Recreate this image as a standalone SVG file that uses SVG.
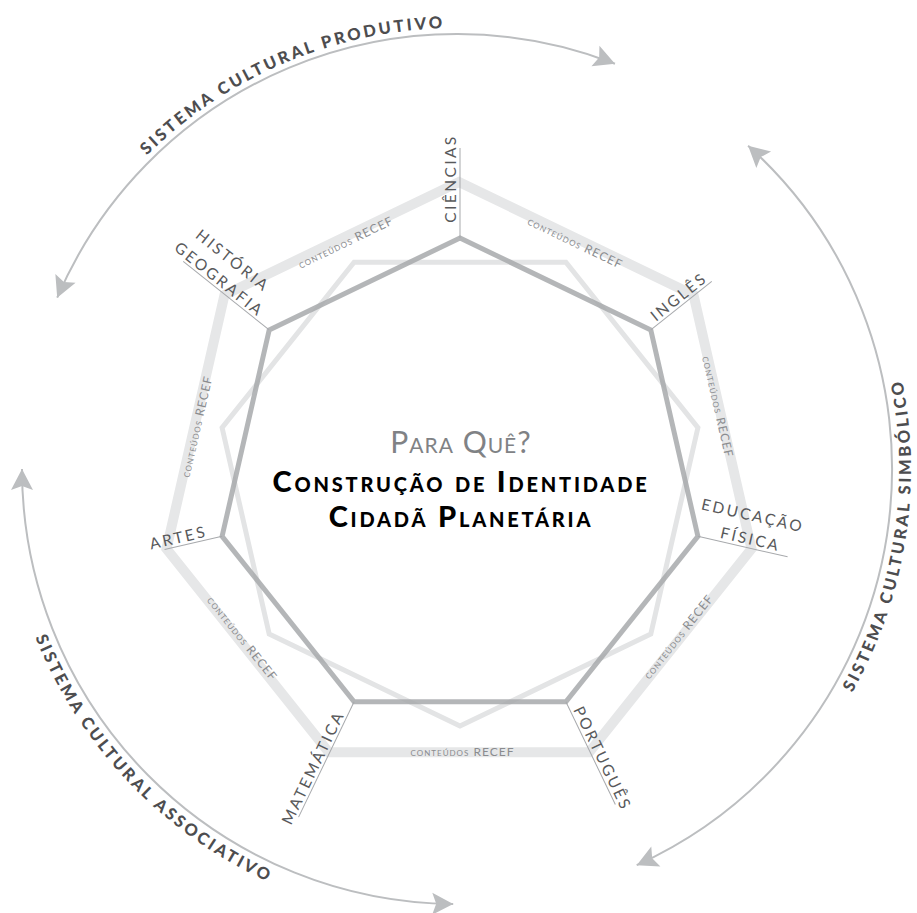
<svg xmlns="http://www.w3.org/2000/svg" width="917" height="913" viewBox="0 0 917 913">
<defs>
<style>
.lbl{font-family:Lato,"Open Sans","DejaVu Sans",sans-serif;font-size:15.5px;fill:#58595b;letter-spacing:2.4px}
.rec{font-family:Lato,"Open Sans","DejaVu Sans",sans-serif;font-size:12px;fill:#8a8c8f;font-variant:small-caps;letter-spacing:1px;text-anchor:middle}
.sys{font-family:Lato,"Open Sans","DejaVu Sans",sans-serif;font-size:16.5px;font-weight:900;fill:#4d4d4f;letter-spacing:2.8px}
.lead{stroke:#a7a9ac;stroke-width:1;fill:none}
.arc{stroke:#bcbec0;stroke-width:2;fill:none;marker-start:url(#ah);marker-end:url(#ah)}
.title{font-family:Lato,"Open Sans","DejaVu Sans",sans-serif;font-variant:small-caps;text-anchor:middle}
</style>
<marker id="ah" markerUnits="userSpaceOnUse" markerWidth="28" markerHeight="28" viewBox="-24 -14 28 28" refX="0" refY="0" orient="auto-start-reverse">
<path d="M0,0 L-21,-11 L-17,0 L-21,11 Z" fill="#bcbec0"/>
</marker>
<path id="tp-top" d="M42.6,318.2 A441,441 0 0,1 607.8,54.6"/>
<path id="tp-right" d="M804.8,760.8 A454,454 0 0,0 850.2,242"/>
<path id="tp-left" d="M9.9,547.8 A454,454 0 0,0 378.2,916.1"/>
</defs>
<rect width="917" height="913" fill="#ffffff"/>

<g id="connectors">
<polygon id="outer-band" points="459,182 693.5,294.9 751.5,548.8 589.2,752.3 328.8,752.3 166.5,548.8 224.5,294.9" fill="none" stroke="#e6e7e8" stroke-width="10"/>
<polygon id="inverted" points="460,726 269.2,634.1 222.1,427.7 354.1,262.2 565.9,262.2 697.9,427.7 650.8,634.1" fill="none" stroke="#e3e4e5" stroke-width="5"/>
<polygon id="inner" points="460,238 650.8,329.9 697.9,536.3 565.9,701.8 354.1,701.8 222.1,536.3 269.2,329.9" fill="none" stroke="#a7a9ac" stroke-width="5" opacity="0.85"/>
<path class="arc" d="M57.2,297.7 A435,435 0 0,1 615,63.7"/>
<path class="arc" d="M748.1,145.7 A435,435 0 0,1 636.7,865.2"/>
<path class="arc" d="M453.2,904 A435,435 0 0,1 22,469"/>
</g>

<g id="recef-labels">
<text class="rec" transform="translate(346,243) rotate(-25.71)" y="3.5">conteúdos RECEF</text>
<text class="rec" transform="translate(575,243.5) rotate(25.71)" y="3.5">conteúdos RECEF</text>
<text class="rec" transform="translate(717,407) rotate(77.14)" y="3.5">conteúdos RECEF</text>
<text class="rec" transform="translate(679,637) rotate(-51.43)" y="3.5">conteúdos RECEF</text>
<text class="rec" transform="translate(462.5,752.5)" y="3.5">conteúdos RECEF</text>
<text class="rec" transform="translate(241.7,639) rotate(51.43)" y="3.5">conteúdos RECEF</text>
<text class="rec" transform="translate(197.5,426.7) rotate(-77.14)" y="3.5">conteúdos RECEF</text>
</g>

<g id="node-ciencias" transform="translate(460,238) rotate(-90)">
<line class="lead" x1="0" y1="0" x2="90" y2="0"/>
<text class="lbl" x="59.5" y="-4" text-anchor="middle">CIÊNCIAS</text>
</g>
<g id="node-ingles" transform="translate(650.8,329.9) rotate(-38.57)">
<line class="lead" x1="0" y1="0" x2="78" y2="0"/>
<text class="lbl" x="42.5" y="-3" text-anchor="middle">INGLÊS</text>
</g>
<g id="node-educacao" transform="translate(697.9,536.3) rotate(12.86)">
<line class="lead" x1="0" y1="0" x2="92" y2="0"/>
<text class="lbl" x="49" y="-27" text-anchor="middle">EDUCAÇÃO</text>
<text class="lbl" x="52" y="-3.5" text-anchor="middle">FÍSICA</text>
</g>
<g id="node-portugues" transform="translate(565.9,701.8) rotate(64.29)">
<line class="lead" x1="0" y1="0" x2="114" y2="0"/>
<text class="lbl" x="67" y="-3" text-anchor="middle">PORTUGUÊS</text>
</g>
<g id="node-matematica" transform="translate(354.1,701.8) rotate(-64.29)">
<line class="lead" x1="0" y1="0" x2="-128" y2="0"/>
<text class="lbl" x="-77" y="-3" text-anchor="middle">MATEMÁTICA</text>
</g>
<g id="node-artes" transform="translate(222.1,536.3) rotate(-12.86)">
<line class="lead" x1="0" y1="0" x2="-59" y2="0"/>
<text class="lbl" x="-43" y="-3" text-anchor="middle">ARTES</text>
</g>
<g id="node-historia" transform="translate(269.2,329.9) rotate(38.57)">
<line class="lead" x1="0" y1="0" x2="-110" y2="0"/>
<text class="lbl" x="-71.5" y="-26" text-anchor="middle">HISTÓRIA</text>
<text class="lbl" x="-70.5" y="-3" text-anchor="middle">GEOGRAFIA</text>
</g>

<g id="center-title">
<text class="title" x="461" y="453" font-size="30" fill="#808285" letter-spacing="1">Para Quê?</text>
<text class="title" x="461" y="492" font-size="29" font-weight="900" fill="#000000" letter-spacing="2.8">Construção de Identidade</text>
<text class="title" x="461" y="527" font-size="29" font-weight="900" fill="#000000" letter-spacing="2.8">Cidadã Planetária</text>
</g>

<g id="system-labels">
<text class="sys"><textPath href="#tp-top" startOffset="52.1%" text-anchor="middle">SISTEMA CULTURAL PRODUTIVO</textPath></text>
<text class="sys"><textPath href="#tp-right" startOffset="44.3%" text-anchor="middle">SISTEMA CULTURAL SIMBÓLICO</textPath></text>
<text class="sys"><textPath href="#tp-left" startOffset="48.1%" text-anchor="middle">SISTEMA CULTURAL ASSOCIATIVO</textPath></text>
</g>
</svg>
